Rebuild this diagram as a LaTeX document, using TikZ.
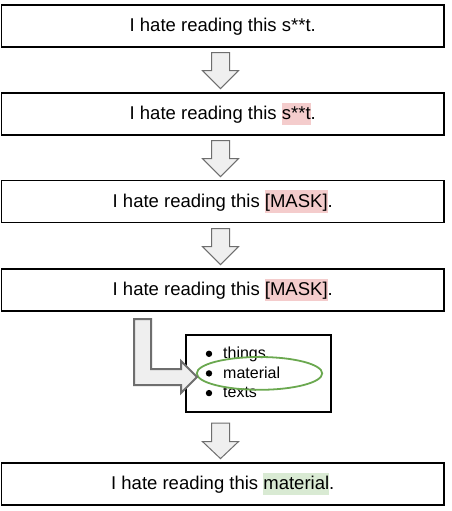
\documentclass[tikz,border=0pt]{standalone}
\usepackage{fontspec}
\setmainfont{Liberation Sans}
\usetikzlibrary{calc,shapes.geometric}
\definecolor{pinkhl}{HTML}{F4CCCC}
\definecolor{greenhl}{HTML}{D9EAD3}
\definecolor{arrowfill}{HTML}{EFEFEF}
\definecolor{arrowdraw}{HTML}{6E6E6E}
\definecolor{ringgreen}{HTML}{6AA84F}
\newcommand\hlbox[2]{{\setlength\fboxsep{0pt}\colorbox{#1}{\rule[-5.5pt]{0pt}{22.5pt}#2}}}
\begin{document}
\begin{tikzpicture}[x=1pt,y=-1pt,
  stepbox/.style={draw=black,line width=1.3pt,minimum width=442.5pt,minimum height=42pt,inner sep=0pt},
  steptext/.style={anchor=base,inner sep=0pt,font=\fontsize{18.5}{22}\selectfont},
  listtext/.style={anchor=base west,inner sep=0pt,font=\fontsize{16}{19}\selectfont},
  listbox/.style={draw=black,line width=1.2pt,minimum width=145pt,minimum height=77pt,inner sep=0pt},
  fatarrow/.style={fill=arrowfill,draw=arrowdraw,line width=1pt,line join=miter},
  bigarrow/.style={fill=arrowfill,draw=arrowdraw,line width=2pt,line join=miter},
  bulletdot/.style={circle,fill=black,inner sep=0pt,minimum size=6.4pt},
  ring/.style={ellipse,draw=ringgreen,line width=1.8pt,minimum width=125.4pt,minimum height=32.8pt,inner sep=0pt}
]
\useasboundingbox (0,0) rectangle (451,511);
\fill[white] (0,0) rectangle (451,511);

% step boxes
\node[stepbox] (b1) at (222.75,26) {};
\node[stepbox] (b2) at (222.75,114) {};
\node[stepbox] (b3) at (222.75,201.5) {};
\node[stepbox] (b4) at (222.75,290) {};
\node[stepbox] (b6) at (222.75,484) {};

\node[steptext] (t1) at ($(b1.center)+(0,5.5)$) {I hate reading this s**t.};
\node[steptext] (t2) at ($(b2.center)+(0,5.5)$) {I hate reading this \hlbox{pinkhl}{s**t}.};
\node[steptext] (t3) at ($(b3.center)+(0,5.5)$) {I hate reading this \hlbox{pinkhl}{[MASK]}.};
\node[steptext] (t4) at ($(b4.center)+(0,5.5)$) {I hate reading this \hlbox{pinkhl}{[MASK]}.};
\node[steptext] (t6) at ($(b6.center)+(0,5.5)$) {I hate reading this \hlbox{greenhl}{material}.};

% list box
\node[listbox] (lb) at (258.5,373.5) {};
\node[bulletdot] (d1) at (209,353.8) {};
\node[bulletdot] (d2) at (209,373.4) {};
\node[bulletdot] (d3) at (209,393.1) {};
\node[listtext] (l1) at (223,358.5) {things};
\node[listtext] (l2) at (223,378) {material};
\node[listtext] (l3) at (223,397.8) {texts};
\node[ring] (ring) at (259.5,373.4) {};

% down arrows
\draw[fatarrow] ($(b1.south)+(-11.25,5)$) -- ++(18,0) -- ++(0,18) -- ++(9,0) -- ++(-18,18) -- ++(-18,-18) -- ++(9,0) -- cycle;
\draw[fatarrow] ($(b2.south)+(-11.25,5)$) -- ++(18,0) -- ++(0,18) -- ++(9,0) -- ++(-18,18) -- ++(-18,-18) -- ++(9,0) -- cycle;
\draw[fatarrow] ($(b3.south)+(-11.25,5.5)$) -- ++(18,0) -- ++(0,18) -- ++(9,0) -- ++(-18,18) -- ++(-18,-18) -- ++(9,0) -- cycle;
\draw[fatarrow] ($(lb.south -| b6.north)+(-11.25,10.5)$) -- ++(18,0) -- ++(0,18.5) -- ++(9,0) -- ++(-18,17) -- ++(-18,-17) -- ++(9,0) -- cycle;

% L-shaped arrow
\draw[bigarrow] (134,319) -- (151,319) -- (151,369) -- (181,369) -- (181,361) -- (197,377) -- (181,393) -- (181,385) -- (134,385) -- cycle;
\end{tikzpicture}
\end{document}
